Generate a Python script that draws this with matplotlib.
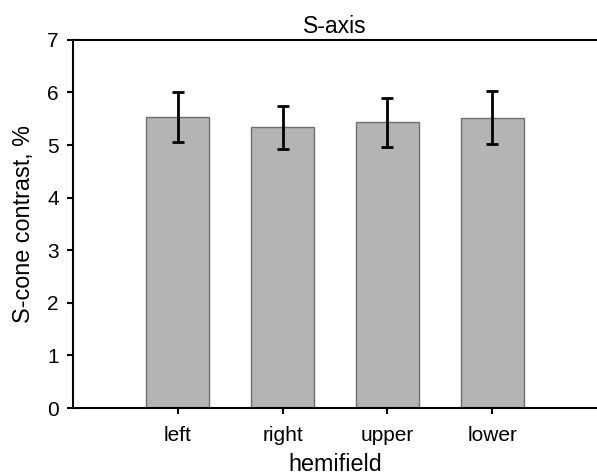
import numpy as np
import matplotlib.pyplot as plt

plt.rcParams['font.family'] = ['Liberation Sans', 'DejaVu Sans']

categories = ['left', 'right', 'upper', 'lower']
means = [5.53, 5.34, 5.43, 5.52]
errors = [0.48, 0.41, 0.47, 0.50]

fig = plt.figure(figsize=(5.97, 4.75), dpi=100)
ax = fig.add_axes([0.122, 0.141, 0.878, 0.775])

x = np.arange(1, len(categories) + 1)
ax.bar(x, means, width=0.6, color='#b4b4b4', edgecolor='#6e6e6e', linewidth=1.0, zorder=2)
ax.errorbar(x, means, yerr=errors, fmt='none', ecolor='black', elinewidth=2,
            capsize=4.3, capthick=2, zorder=3)

ax.set_xlim(0, 5)
ax.set_ylim(0, 7)
ax.set_xticks(x)
ax.set_xticklabels(categories)
ax.set_yticks(range(0, 8))

ax.spines['right'].set_visible(False)
for s in ['left', 'bottom', 'top']:
    ax.spines[s].set_linewidth(1.5)
ax.tick_params(direction='out', length=4.5, width=1.5, labelsize=15)
ax.tick_params(axis='x', pad=8.5)
ax.tick_params(axis='y', pad=5.5)

ax.set_xlabel('hemifield', fontsize=16.8, labelpad=6)
ax.set_ylabel('S-cone contrast, %', fontsize=16.8, labelpad=9)
ax.set_title('S-axis', fontsize=16.5, pad=5)

fig.savefig('out.png', dpi=100)
